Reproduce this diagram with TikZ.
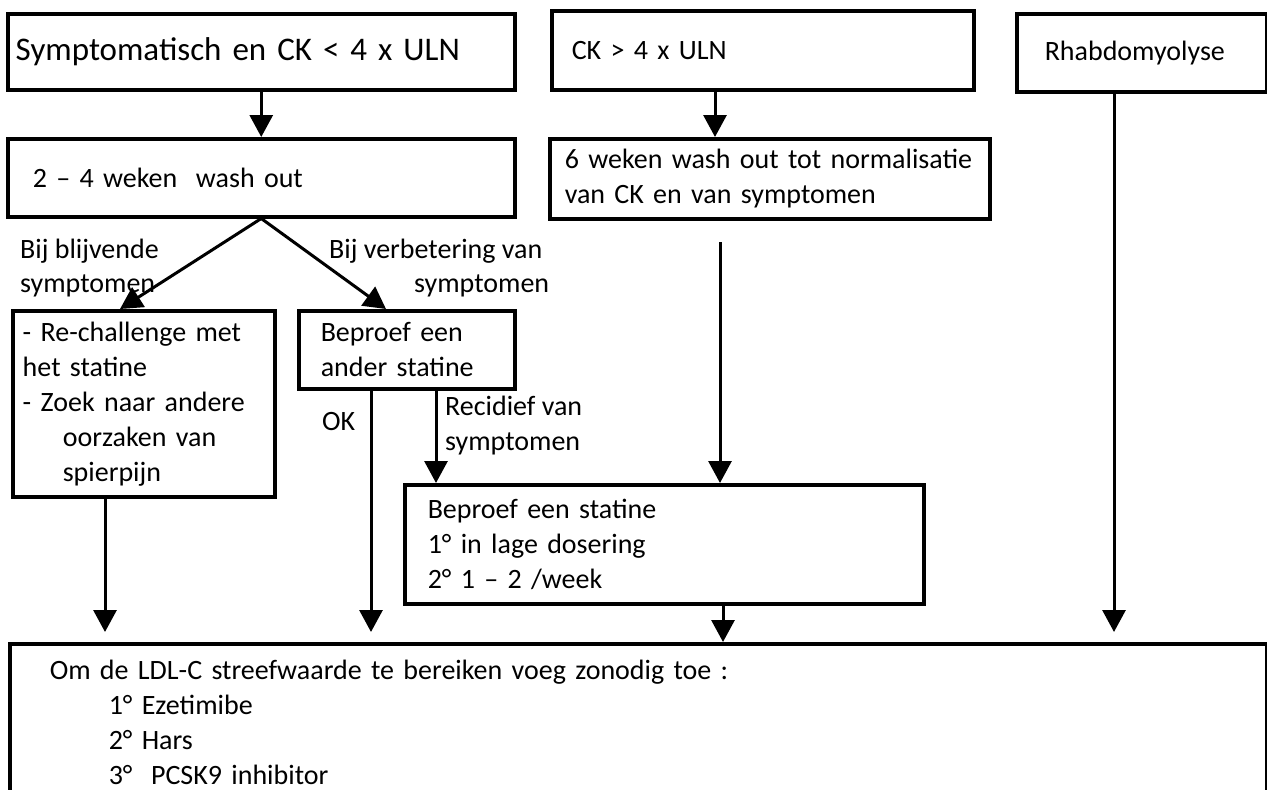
\documentclass[tikz,border=0pt]{standalone}
\usepackage{fontspec}
\setmainfont{Carlito}
\usetikzlibrary{arrows.meta}
\begin{document}
\begin{tikzpicture}[x=1pt,y=-1pt,
  every node/.style={font=\fontsize{28}{35}\selectfont},
  box/.style={draw, line width=3.5pt, anchor=north west, inner ysep=0pt, align=left},
  lbl/.style={inner sep=0pt, anchor=base west},
  arr/.style={line width=3pt, -{Triangle[width=23pt,length=22pt]}},
  gap/.style={shorten >=10pt}]
\useasboundingbox (0,0) rectangle (1267,790);
% boxes
\node[box, inner xsep=8pt, text width=491pt, minimum height=76pt, font=\fontsize{33}{39}\selectfont] (A) at (6,12) {Symptomatisch en CK < 4 x ULN};
\node[box, inner xsep=25pt, text width=457pt, minimum height=78pt] (B) at (6,137) {2 – 4 weken\ \ wash out};
\node[box, inner xsep=20pt, text width=382pt, minimum height=79pt] (C) at (550,9) {CK > 4 x ULN};
\node[box, inner xsep=15pt, text width=410pt, minimum height=80pt] (D) at (548,137) {\mbox{6 weken wash out tot normalisatie}\\van CK en van symptomen};
\node[box, inner xsep=28pt, text width=194pt, minimum height=78pt] (E) at (1015,12) {Rhabdomyolyse};
\node[box, inner xsep=10pt, text width=242pt, minimum height=186pt] (F) at (11,309) {- Re-challenge met\\het statine\\- Zoek naar andere\\\hspace*{40pt}oorzaken van\\\hspace*{40pt}spierpijn};
\node[box, inner xsep=22pt, text width=172pt, minimum height=78pt] (G) at (297,309) {Beproef een\\ander statine};
\node[box, inner xsep=23pt, text width=473pt, minimum height=119pt] (H) at (403,483) {Beproef een statine\\1° in lage dosering\\2° 1 – 2 /week};
\node[box, inner xsep=40pt, text width=1177pt, minimum height=158pt] (I) at (8,642) {Om de LDL-C streefwaarde te bereiken voeg zonodig toe :\\\hspace*{59pt}1° Ezetimibe\\\hspace*{59pt}2° Hars\\\hspace*{59pt}3°\ \ PCSK9 inhibitor};
% labels
\node[lbl] (l1a) at (20,258) {Bij blijvende};
\node[lbl] (l1b) at (20,292) {symptomen};
\node[lbl] (l2a) at (329,258) {Bij verbetering van};
\node[lbl] (l2b) at (414,292) {symptomen};
\node[lbl] (ok) at (322,430) {OK};
\node[lbl] (r1) at (445,415) {Recidief van};
\node[lbl] (r2) at (445,450) {symptomen};
% helper x positions
\coordinate (xc) at (715,0);
\coordinate (xf1) at (120,0);
\coordinate (xg1) at (386,0);
\coordinate (xok) at (371,0);
\coordinate (xrec) at (436,0);
\coordinate (xf2) at (105,0);
\coordinate (xh) at (723,0);
\coordinate (xe) at (1114,0);
\coordinate (dgap) at (720,242);
% connectors
\draw[arr] (A.south) -- (B.north);
\draw[arr] (C.south -| xc) -- (D.north -| xc);
\draw[arr] (B.south) -- (F.north -| xf1);
\draw[arr] (B.south) -- (G.north -| xg1);
\draw[arr, gap] (G.south -| xok) -- (I.north -| xok);
\draw[arr] (G.south -| xrec) -- (H.north -| xrec);
\draw[arr, gap] (F.south -| xf2) -- (I.north -| xf2);
\draw[arr] (dgap) -- (H.north -| dgap);
\draw[arr] (H.south -| xh) -- (I.north -| xh);
\draw[arr, gap] (E.south -| xe) -- (I.north -| xe);
\end{tikzpicture}
\end{document}
